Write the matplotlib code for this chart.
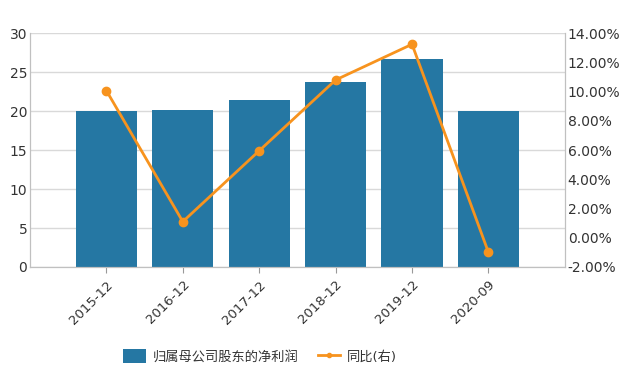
import numpy as np
import matplotlib
matplotlib.use("Agg")
import matplotlib.pyplot as plt
from matplotlib.ticker import FuncFormatter

plt.rcParams['font.family'] = ['DejaVu Sans', 'Noto Sans CJK SC']

# data
periods = ["2015-12", "2016-12", "2017-12", "2018-12", "2019-12", "2020-09"]
net_profit = [20.0, 20.1, 21.4, 23.7, 26.7, 20.0]
yoy_pct = [10.06, 1.1, 5.95, 10.79, 13.23, -1.0]

bar_color = "#2577a3"
line_color = "#f7931e"
grid_color = "#d9d9d9"
text_color = "#333333"

fig = plt.figure(figsize=(6.3, 3.75), dpi=100)
ax1 = fig.add_axes([0.0476, 0.288, 0.849, 0.624])
ax2 = ax1.twinx()

x = np.arange(len(periods))
bars = ax1.bar(x, net_profit, width=0.8, color=bar_color, zorder=2,
               label="归属母公司股东的净利润")
line, = ax2.plot(x, yoy_pct, color=line_color, linewidth=2, marker="o",
                 markersize=6, zorder=3, label="同比(右)")

ax1.set_xlim(-1, 6)
ax1.set_ylim(0, 30)
ax1.set_yticks(range(0, 31, 5))
ax2.set_ylim(-2, 14)
ax2.set_yticks(range(-2, 15, 2))
ax2.yaxis.set_major_formatter(FuncFormatter(lambda v, p: f"{v:.2f}%"))

ax1.set_xticks(x)
ax1.set_xticklabels(periods, rotation=45, ha="right", rotation_mode="anchor")

ax1.yaxis.grid(True, color=grid_color, linewidth=1, zorder=0)
ax1.set_axisbelow(True)

for ax in (ax1, ax2):
    ax.spines["top"].set_visible(False)
    for s in ("left", "right", "bottom"):
        ax.spines[s].set_color("#c0c0c0")
    ax.tick_params(colors=text_color, labelsize=10, length=0)
ax1.tick_params(axis="x", length=4, color="#999999", labelsize=9.5, pad=4)
ax2.tick_params(axis="y", pad=2)
ax1.tick_params(axis="y", pad=2)

ax2.set_zorder(ax1.get_zorder() + 1)
ax2.patch.set_visible(False)

fig.legend(handles=[bars, line], loc="center", bbox_to_anchor=(0.413, 0.05),
           ncol=2, frameon=False, fontsize=9.5, handlelength=1.7,
           handleheight=1.2, handletextpad=0.5, columnspacing=1.5,
           markerscale=0.5, labelcolor=text_color)

fig.savefig("out.png", dpi=100)
